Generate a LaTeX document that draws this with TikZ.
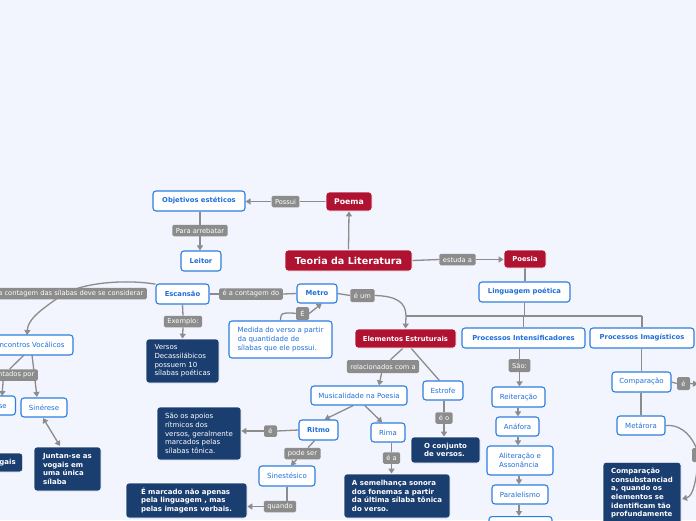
\documentclass[tikz,border=0pt]{standalone}
\usepackage{fontspec}
\setmainfont{DejaVu Sans}
\usetikzlibrary{arrows.meta}
\definecolor{bgc}{RGB}{242,245,253}
\definecolor{bord}{RGB}{45,125,225}
\definecolor{tblue}{RGB}{30,110,220}
\definecolor{redc}{RGB}{176,18,50}
\definecolor{dblue}{RGB}{27,62,112}
\definecolor{lgray}{RGB}{140,140,140}
\pgfdeclarelayer{bg}
\pgfsetlayers{bg,main}
\tikzset{
  base/.style={rounded corners=3pt, align=center, inner sep=0pt},
  wb/.style={base, draw=bord, fill=white, line width=1.1pt, text=tblue, font=\fontsize{7}{8.6}\selectfont},
  wbb/.style={wb, font=\fontsize{6.8}{8.6}\selectfont\bfseries},
  rb/.style={base, fill=redc, draw=white, line width=0.8pt, text=white, font=\fontsize{6.8}{8}\selectfont\bfseries},
  db/.style={base, fill=dblue, draw=white, line width=0.6pt, text=white, align=left, font=\fontsize{7}{8.6}\selectfont},
  dbb/.style={db, font=\fontsize{7}{8.6}\selectfont\bfseries},
  lb/.style={base, fill=lgray, text=white, rounded corners=1.5pt, inner xsep=3.5pt, minimum height=11.5pt, font=\fontsize{6.7}{7}\selectfont},
  conn/.style={draw=lgray, line width=1.3pt},
  arr/.style={-{Triangle[length=5pt,width=6pt]}},
  arrb/.style={{Triangle[length=5pt,width=6pt]}-{Triangle[length=5pt,width=6pt]}},
}
\begin{document}
\begin{tikzpicture}[x=1pt,y=-1pt]
\begin{pgfonlayer}{bg}
\fill[bgc] (0,0) rectangle (696,520);
\end{pgfonlayer}
\useasboundingbox (0,0) rectangle (696,520);

% red nodes
\node[rb, font=\fontsize{9.6}{10}\selectfont\bfseries, minimum width=127pt, minimum height=21pt] (teoria) at (348.5,260.5) {Teoria da Literatura};
\node[rb, font=\fontsize{7.8}{9}\selectfont\bfseries, minimum width=46pt, minimum height=19pt] (poema) at (349,201.5) {Poema};
\node[rb, minimum width=42pt, minimum height=18pt] (poesia) at (525,259) {Poesia};
\node[rb, minimum width=101pt, minimum height=19pt] (elem) at (405.5,338.5) {Elementos Estruturais};

% white bold nodes
\node[wbb, minimum width=92pt, minimum height=20pt] (obj) at (199,201) {Objetivos estéticos};
\node[wbb, minimum width=40pt, minimum height=20pt] (leitor) at (201,261) {Leitor};
\node[wbb, minimum width=91pt, minimum height=20pt] (ling) at (524.5,292) {Linguagem poética};
\node[wbb, minimum width=123pt, minimum height=20pt] (pint) at (523.5,338) {Processos Intensificadores};
\node[wbb, minimum width=104pt, minimum height=20pt] (pimg) at (642,338) {Processos Imagísticos};
\node[wbb, minimum width=40pt, minimum height=19pt] (metro) at (317,293.5) {Metro};
\node[wbb, minimum width=53pt, minimum height=20pt] (escan) at (182.5,294) {Escansão};
\node[wbb, minimum width=39pt, minimum height=20pt] (ritmo) at (318.5,430) {Ritmo};

% white normal nodes
\node[wb, align=left, minimum width=103pt, minimum height=37pt] (medida) at (280.5,339.5) {Medida do verso a partir\\da quantidade de\\sílabas que ele possui.};
\node[wb, minimum width=84pt, minimum height=20pt] (incontros) at (31,345) {Incontros Vocálicos};
\node[wb, minimum width=44pt, minimum height=19pt, anchor=east] (dierese) at (16,405.5) {Diérese};
\node[wb, minimum width=46pt, minimum height=19pt] (sinerese) at (44,407.5) {Sinérese};
\node[wb, minimum width=96pt, minimum height=19pt] (musical) at (359,395.5) {Musicalidade na Poesia};
\node[wb, minimum width=34pt, minimum height=19pt] (rima) at (388,432.5) {Rima};
\node[wb, minimum width=40pt, minimum height=19pt] (estrofe) at (443,390.5) {Estrofe};
\node[wb, minimum width=56pt, minimum height=20pt] (sinest) at (287,476) {Sinestésico};
\node[wb, minimum width=53pt, minimum height=20pt] (reit) at (518.5,397) {Reiteração};
\node[wb, minimum width=43pt, minimum height=19pt] (anafora) at (517.5,426.5) {Anáfora};
\node[wb, align=left, minimum width=66pt, minimum height=29pt] (alit) at (520,460.5) {Aliteração e\\Assonância};
\node[wb, minimum width=56pt, minimum height=19pt] (paral) at (520,494.5) {Paralelismo};
\node[wb, minimum width=63pt, minimum height=26pt, anchor=north] (nextb) at (520.5,516) {};
\node[wb, minimum width=59pt, minimum height=20pt] (comparacao) at (641.5,382) {Comparação};
\node[wb, minimum width=48pt, minimum height=19pt] (metarora) at (641,425.5) {Metárora};

% dark nodes
\node[db, minimum width=73pt, minimum height=44pt] (versos) at (182.5,361) {Versos\\Decassilábicos\\possuem 10\\sílabas poéticas};
\node[db, minimum width=84pt, minimum height=53pt] (apoios) at (199,433.5) {São os apoios\\rítmicos dos\\versos, geralmente\\marcados pelas\\sílabas tônica.};
\node[dbb, minimum width=121pt, minimum height=35pt] (marcado) at (186.5,500.5) {É marcado não apenas\\pela linguagem , mas\\pelas imagens verbais.};
\node[dbb, minimum width=106pt, minimum height=44pt] (semelhanca) at (397,496) {A semelhança sonora\\dos fonemas a partir\\da última sílaba tônica\\do verso.};
\node[dbb, minimum width=69pt, minimum height=26pt] (conjunto) at (445.5,450) {O conjunto\\de versos.};
\node[dbb, minimum width=67pt, minimum height=44pt] (juntan) at (67.5,469) {Juntan-se as\\vogais em\\uma única\\sílaba};
\node[dbb, anchor=east, inner xsep=7pt, minimum height=19pt] (vogais) at (23,462.5) {as vogais};
\node[dbb, anchor=north, minimum width=78pt, inner ysep=6pt] (consub) at (642,462) {Comparação\\consubstanciad\\a, quando os\\elementos se\\identificam tão\\profundamente};

% labels
\node[lb] (possui) at (285.5,201.5) {Possui};
\node[lb] (pararr) at (200,230.5) {Para arrebatar};
\node[lb] (estuda) at (457.5,259.5) {estuda a};
\node[lb] (contagem) at (251,294) {é a contagem do};
\node[lb, anchor=east] (nacont) at (147,293.5) {Na contagem das sílabas deve se considerar};
\node[lb] (exemplo) at (183,321.5) {Exemplo:};
\node[lb, minimum width=13pt, minimum height=13pt, inner xsep=0pt] (E) at (302.5,313.5) {É};
\node[lb, minimum height=13pt] (eum) at (362.5,295.5) {é um};
\node[lb, minimum height=13pt] (relac) at (383,366.5) {relacionados com a};
\node[lb] (eo) at (444,418) {é o};
\node[lb] (ea) at (391.5,458) {é a};
\node[lb, minimum width=13pt, inner xsep=0pt] (eritmo) at (270.5,431) {é};
\node[lb] (podeser) at (302.5,453.5) {pode ser};
\node[lb] (quando) at (280,506.5) {quando};
\node[lb, minimum height=13pt] (sao) at (519.5,365.5) {São:};
\node[lb, minimum width=13pt, minimum height=13pt, inner xsep=0pt] (ecomp) at (683.5,383.5) {é};
\node[lb, anchor=east] (apres) at (38,375) {representados por};
\node[lb, anchor=west, minimum width=14pt, minimum height=14pt] (rlab) at (692,455) {};

% coordinates
\coordinate (busL) at (406,316);
\coordinate (busM) at (524.5,316);
\coordinate (busR) at (642,316);
\coordinate (incTop) at (27,335);
\coordinate (incA) at (24,355);
\coordinate (incB) at (32,355);
\coordinate (dierTop) at (2,396);
\coordinate (sinTop) at (37,397);
\coordinate (sinBot) at (43,418);
\coordinate (junTop) at (60,446);
\coordinate (offR) at (698,384);
\coordinate (consE) at (682,499);
\coordinate (curveMid) at (55,300);

\begin{pgfonlayer}{bg}
\draw[conn,arr] (teoria.north) -- (poema.south);
\draw[conn] (poema.west) -- (possui.east);
\draw[conn,arr] (possui.west) -- (obj.east |- possui);
\draw[conn] (obj.south -| pararr) -- (pararr.north);
\draw[conn,arr] (pararr.south) -- (leitor.north -| pararr);
\draw[conn] (teoria.east) -- (estuda.west);
\draw[conn,arr] (estuda.east) -- (poesia.west |- estuda);
\draw[conn] (poesia.south) -- (ling.north -| poesia);
\draw[conn] (ling.south) -- (busM);
\draw[conn] (busL) -- (busR);
\draw[conn] (busR) -- (pimg.north);
\draw[conn] (busM -| pint) -- (pint.north);
\draw[conn,arr] (busL) -- (elem.north);
\draw[conn] (metro.east) -- (eum.west);
\draw[conn] (eum.east) .. controls (396,296) and (406,302) .. (busL);
\draw[conn] (metro.west) -- (contagem.east);
\draw[conn] (contagem.west) -- (escan.east);
\draw[conn] (escan.160) .. controls (125,279) and (75,282) .. (curveMid);
\draw[conn,arr] (curveMid) .. controls (38,312) and (28,320) .. (incTop);
\draw[conn] (escan.south) -- (exemplo.north);
\draw[conn,arr] (exemplo.south) -- (versos.north);
\draw[conn] (medida.north) .. controls (281,313) .. (292,313) -- (E.west);
\draw[conn,arr] (E.east) -- (metro.295);
\draw[conn] (elem.255) -- (relac);
\draw[conn,arr] (relac) -- (musical.north -| 379,0);
\draw[conn] (elem.300) -- (estrofe.110);
\draw[conn,arr] (musical.240) -- (ritmo.60);
\draw[conn,arr] (musical.300) -- (rima.120);
\draw[conn] (estrofe.south -| eo) -- (eo);
\draw[conn,arr] (eo) -- (conjunto.north -| eo);
\draw[conn] (rima.south -| ea) -- (ea);
\draw[conn,arr] (ea) -- (semelhanca.north -| ea);
\draw[conn] (ritmo.west) -- (eritmo.east);
\draw[conn,arr] (eritmo.west) -- (apoios.east |- eritmo);
\draw[conn] (ritmo.250) -- (podeser);
\draw[conn,arr] (podeser) -- (sinest.70);
\draw[conn] (sinest.south) -- (sinest.south |- quando);
\draw[conn,arr] (quando.west) -- (marcado.east |- quando);
\draw[conn] (pint.south -| sao) -- (sao);
\draw[conn,arr] (sao) -- (reit.north -| sao);
\draw[conn,arr] (reit.south -| 518,0) -- (anafora.north -| 518,0);
\draw[conn,arr] (anafora.south -| 518,0) -- (alit.north -| 518,0);
\draw[conn,arr] (alit.south -| 519,0) -- (paral.north -| 519,0);
\draw[conn,arr] (paral.south -| 519,0) -- (nextb.north -| 519,0);
\draw[conn] (pimg.south -| comparacao) -- (comparacao.north);
\draw[conn] (comparacao.south -| metarora) -- (metarora.north);
\draw[conn] (comparacao.east) -- (ecomp.west);
\draw[conn,arr] (ecomp.east) -- (offR);
\draw[conn] (metarora.east) .. controls (684,424) and (693,440) .. (rlab);
\draw[conn,arr] (rlab) .. controls (696,478) and (694,496) .. (consE);
\draw[conn] (incA) -- (apres);
\draw[conn,arr] (apres) -- (dierTop);
\draw[conn,arr] (incB) -- (sinTop);
\draw[conn,arrb] (sinBot) -- (junTop);
\end{pgfonlayer}
\end{tikzpicture}
\end{document}
